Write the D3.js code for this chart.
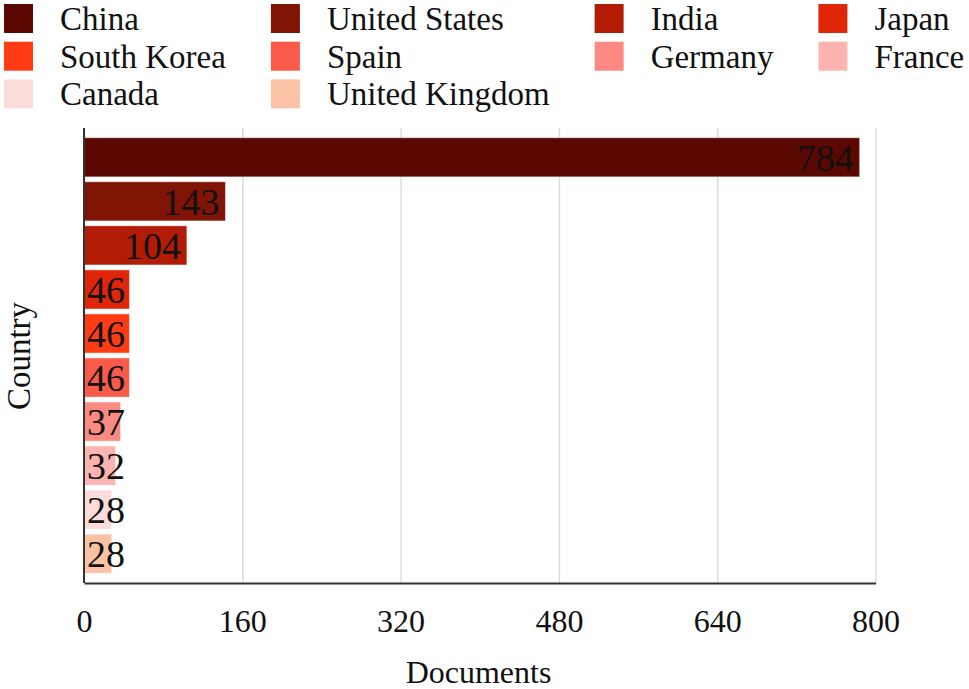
<!DOCTYPE html>
<html>
<head>
<meta charset="utf-8">
<script src="https://cdn.jsdelivr.net/npm/d3@7"></script>
<style>
  body { margin: 0; background: #fff; }
  text { font-family: "Liberation Serif", "Times New Roman", serif; fill: #111; }
</style>
</head>
<body>
<div id="plot_area"></div>
<script>
// data
var countries = ['China', 'United States', 'India', 'Japan', 'South Korea',
  'Spain', 'Germany', 'France', 'Canada', 'United Kingdom']
var documents = [784, 143, 104, 46, 46, 46, 37, 32, 28, 28]
var colors = ['#5c0802', '#801405', '#b21c05', '#e02608', '#ff3c14',
  '#f95a4a', '#fa8a82', '#fcb4b0', '#fddcdc', '#fac3a6']
var xTicks = [0, 160, 320, 480, 640, 800]

var W = 969, H = 689
var margin = {top: 128, right: 94, bottom: 106, left: 84}
var width = W - margin.left - margin.right,
    height = H - margin.top - margin.bottom

var svg = d3.select('#plot_area')
  .append('svg')
  .attr('width', W)
  .attr('height', H)

var g = svg.append('g')
  .attr('transform', 'translate(' + margin.left + ',' + margin.top + ')')

var x = d3.scaleLinear()
  .domain([0, 800])
  .range([0, width + 0.5])

var y = d3.scaleBand()
  .domain(countries)
  .range([0, height])
  .paddingInner(0.11)
  .paddingOuter(0.22)

// gridlines
g.append('g')
  .attr('class', 'grid')
  .call(d3.axisBottom(x).tickValues(xTicks).tickSize(height).tickFormat(''))
  .call(function(s) { s.select('.domain').remove() })
g.selectAll('.grid .tick line').attr('stroke', '#dcdcdc').attr('stroke-width', 1.5)

// bars
g.selectAll('rect.bar')
  .data(countries)
  .enter()
  .append('rect')
  .attr('class', 'bar')
  .attr('x', x(0))
  .attr('y', function(d) { return y(d) })
  .attr('width', function(d, i) { return x(documents[i]) - x(0) })
  .attr('height', y.bandwidth())
  .attr('fill', function(d, i) { return colors[i] })
  .attr('stroke', 'rgba(255,255,255,0.5)')
  .attr('stroke-width', 1)

// value labels, right aligned inside the bar, pushed right if it doesn't fit
var labels = g.selectAll('text.val')
  .data(countries)
  .enter()
  .append('text')
  .attr('class', 'val')
  .attr('y', function(d) { return y(d) + y.bandwidth() / 2 })
  .attr('dy', '0.35em')
  .attr('text-anchor', 'end')
  .style('font-size', '38px')
  .text(function(d, i) { return documents[i] })

labels.attr('x', function(d, i) {
  var tw = this.getComputedTextLength()
  return Math.max(x(documents[i]) - 6, x(0) + 3 + tw)
})

// axes lines
var xAxis = g.append('g')
  .attr('transform', 'translate(0,' + height + ')')
  .call(d3.axisBottom(x).tickValues(xTicks).tickSize(0).tickPadding(26))
xAxis.select('.domain').attr('stroke', '#333').attr('stroke-width', 2)
xAxis.selectAll('text').style('font-size', '32px').attr('fill', '#111')

g.append('line')
  .attr('x1', 0).attr('x2', 0)
  .attr('y1', 0).attr('y2', height)
  .attr('stroke', '#333')
  .attr('stroke-width', 2)

// axis titles
svg.append('text')
  .attr('x', margin.left + width / 2 - 1)
  .attr('y', 683)
  .attr('text-anchor', 'middle')
  .style('font-size', '32px')
  .text('Documents')

svg.append('text')
  .attr('transform', 'translate(30,356)rotate(-90)')
  .attr('text-anchor', 'middle')
  .style('font-size', '33px')
  .text('Country')

// legend: 4 columns, width set by the longest name in each column
var ncol = 4, rowH = 37.7, sw = 29
var legend = svg.append('g').attr('transform', 'translate(4,4)')
var colX = 0
for (var c = 0; c < ncol; c++) {
  var maxw = 0
  for (var i = c; i < countries.length; i += ncol) {
    var r = Math.floor(i / ncol)
    var item = legend.append('g')
      .attr('transform', 'translate(' + colX + ',' + (r * rowH) + ')')
    item.append('rect')
      .attr('width', sw).attr('height', sw)
      .attr('fill', colors[i])
    var t = item.append('text')
      .attr('x', 56)
      .attr('y', sw / 2)
      .attr('dy', '0.35em')
      .style('font-size', '33px')
      .text(countries[i])
    maxw = Math.max(maxw, t.node().getComputedTextLength())
  }
  colX += 56 + maxw + 45
}
</script>
</body>
</html>
